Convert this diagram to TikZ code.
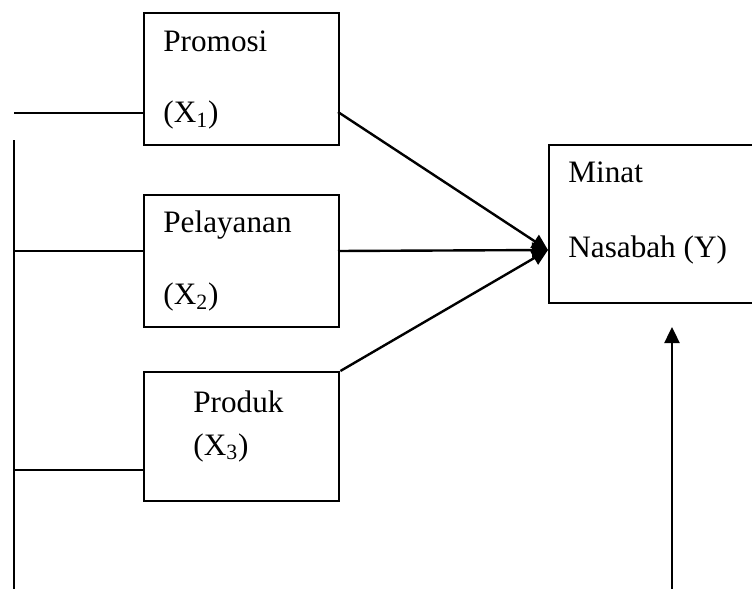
\documentclass[tikz,border=0pt]{standalone}
\usepackage{fontspec}
\setmainfont{Liberation Serif}
\usetikzlibrary{arrows.meta}

\tikzset{
  kotak/.style={draw, line width=1.2pt, anchor=north west, inner sep=0pt, minimum width=97.5pt},
  teks/.style={anchor=base west, inner sep=0pt, font=\fontsize{15.6}{18}\selectfont},
  garis/.style={line width=1.2pt},
  panah/.style={line width=1.2pt, -{Triangle[length=8pt,width=7.5pt]}}
}

\begin{document}
\begin{tikzpicture}[x=0.5pt,y=-0.5pt]
  \useasboundingbox (0,0) rectangle (752,589);
  % kotak variabel
  \node[kotak, minimum height=66pt] (promosi) at (143,12) {};
  \node[kotak, minimum height=66pt] (pelayanan) at (143,194) {};
  \node[kotak, minimum height=64.5pt] (produk) at (143,371) {};
  \node[kotak, minimum width=102pt, minimum height=79pt] (minat) at (548,144) {};
  % teks
  \node[teks] (tPromosi) at (163,52) {Promosi};
  \node[teks] (tX1) at (163,123) {(X\textsubscript{1})};
  \node[teks] (tPelayanan) at (163,233) {Pelayanan};
  \node[teks] (tX2) at (163,305) {(X\textsubscript{2})};
  \node[teks] (tProduk) at (193,413) {Produk};
  \node[teks] (tX3) at (193,455) {(X\textsubscript{3})};
  \node[teks] (tMinat) at (568,183) {Minat};
  \node[teks] (tNasabah) at (568,257) {Nasabah (Y)};
  % garis kiri
  \coordinate (busAtas) at (14,140);
  \coordinate (busBawah) at (14,589);
  \coordinate (h1) at (14,113);
  \coordinate (h2) at (14,251);
  \coordinate (h3) at (14,470);
  \draw[garis] (busAtas) -- (busBawah);
  \draw[garis] (h1) -- (h1 -| promosi.west);
  \draw[garis] (h2) -- (h2 -| pelayanan.west);
  \draw[garis] (h3) -- (h3 -| produk.west);
  % panah ke Y
  \coordinate (ujung) at (548,250);
  \coordinate (p1) at (338,112);
  \coordinate (p2) at (338,251);
  \draw[panah] (p1) -- (ujung);
  \draw[panah] (p2) -- (ujung);
  \draw[panah] (produk.north east) -- (ujung);
  \coordinate (bawah) at (672,589);
  \draw[panah] (bawah) -- (bawah |- 0,327);
\end{tikzpicture}
\end{document}
